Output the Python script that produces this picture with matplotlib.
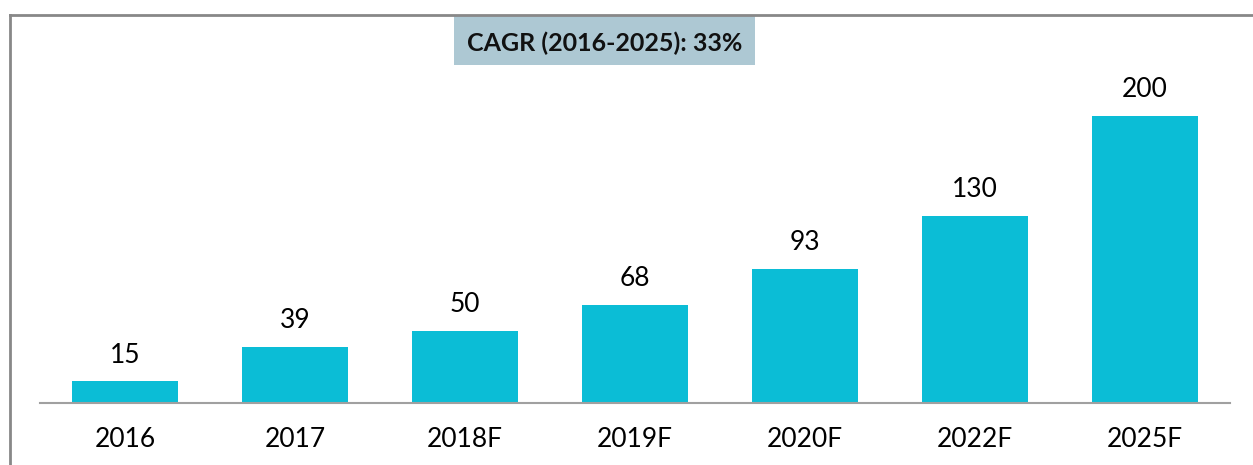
import matplotlib.pyplot as plt
from matplotlib.lines import Line2D
from matplotlib.patches import Rectangle

plt.rcParams['font.family'] = ['Lato', 'DejaVu Sans']

# Data
years = ['2016', '2017', '2018F', '2019F', '2020F', '2022F', '2025F']
values = [15, 39, 50, 68, 93, 130, 200]
cagr_text = 'CAGR (2016-2025): 33%'

W, H = 1253, 465
fig = plt.figure(figsize=(W / 100, H / 100), dpi=100)

# axes placed in pixel coords: x 40..1230, y 15..403 (from top)
ax = fig.add_axes([40 / W, (H - 403) / H, (1230 - 40) / W, (403 - 15) / H])
x = range(len(years))
ax.bar(x, values, width=0.62, color='#0BBDD6', zorder=2)
ax.set_xlim(-0.5, len(years) - 0.5)
ax.set_ylim(0, 270)

for i, v in zip(x, values):
    ax.annotate(str(v), (i, v), xytext=(0, 10), textcoords='offset points',
                ha='center', va='bottom', fontsize=19, color='black')

ax.set_xticks(list(x))
ax.set_xticklabels(years, fontsize=19)
ax.tick_params(axis='x', length=0, pad=17)
ax.set_yticks([])
for s in ['top', 'right', 'left']:
    ax.spines[s].set_visible(False)
ax.spines['bottom'].set_color('#A0A0A0')
ax.spines['bottom'].set_linewidth(1.5)

# outer frame lines (top and left)
fig.add_artist(Line2D([10 / W, 1], [(H - 15) / H, (H - 15) / H],
                      color='#888888', lw=2, transform=fig.transFigure))
fig.add_artist(Line2D([10 / W, 10 / W], [0, (H - 15) / H],
                      color='#888888', lw=2, transform=fig.transFigure))

# CAGR box
fig.add_artist(Rectangle((454 / W, (H - 65) / H), (755 - 454) / W, 49 / H,
                         facecolor='#ADC8D3', edgecolor='none',
                         transform=fig.transFigure))
fig.text((454 + 755) / 2 / W, (H - 43) / H, cagr_text, ha='center', va='center',
         fontsize=18, fontweight='bold', color='#111111')

fig.savefig('out.png', dpi=100)
